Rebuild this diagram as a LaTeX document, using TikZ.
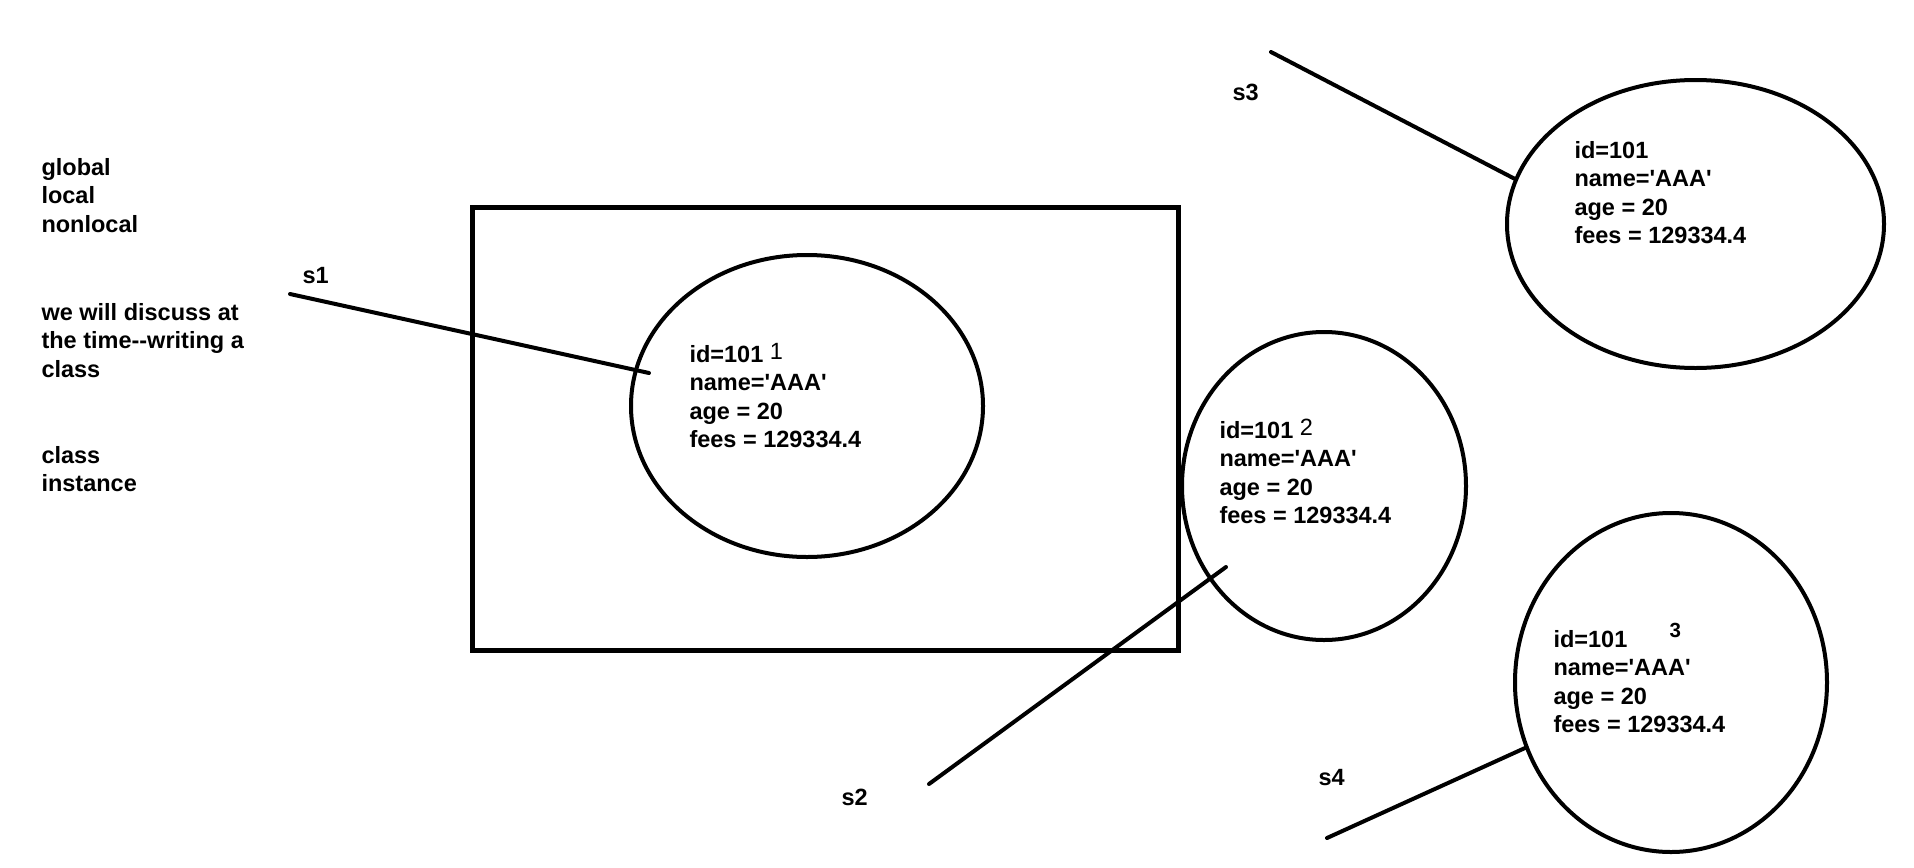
\documentclass[tikz,border=0pt]{standalone}
\usepackage{fontspec}
\newfontfamily\arialf{Liberation Sans}
\usetikzlibrary{shapes.geometric}
\tikzset{
  txt/.style={anchor=base west, inner sep=0pt, font=\arialf\bfseries\fontsize{9.4}{11.4}\selectfont},
  obj/.style={draw, ellipse, line width=1.6pt, inner sep=0pt},
  link/.style={line width=1.6pt, line cap=round},
}
\newcommand{\blk}[1]{\vtop{\baselineskip=11.4pt\lineskiplimit=-5pt #1}}
\newcommand{\idx}[1]{\raisebox{1.2pt}{\mdseries #1}}
\begin{document}
\begin{tikzpicture}[x=0.4pt,y=-0.4pt]
\useasboundingbox[fill=white] (0,0) rectangle (1914,867);
% left notes
\node[txt] (n1) at (41,175) {\blk{\hbox{global}\hbox{local}\hbox{nonlocal}}};
\node[txt] (n2) at (41,320) {\blk{\hbox{we will discuss at}\hbox{the time--writing a}\hbox{class}}};
\node[txt] (n3) at (41,463) {\blk{\hbox{class}\hbox{instance}}};
% box
\node[draw, line width=2pt, minimum width=282pt, minimum height=177.2pt, inner sep=0pt] (box) at (825.5,428.5) {};
% ellipses
\node[obj, minimum width=140.8pt, minimum height=120.8pt] (e1) at (807,406) {};
\node[obj, minimum width=113.6pt, minimum height=123.2pt] (e2) at (1324,486) {};
\node[obj, minimum width=150.8pt, minimum height=115.2pt] (e3) at (1695.5,224) {};
\node[obj, minimum width=124.8pt, minimum height=135.6pt] (e4) at (1671,682.5) {};
% ellipse texts
\node[txt] (t1) at (689,362) {\blk{\hbox{id=101 \idx{1}}\hbox{name='AAA'}\hbox{age = 20}\hbox{fees = 129334.4}}};
\node[txt] (t2) at (1219,438) {\blk{\hbox{id=101 \idx{2}}\hbox{name='AAA'}\hbox{age = 20}\hbox{fees = 129334.4}}};
\node[txt] (t3) at (1574,158) {\blk{\hbox{id=101}\hbox{name='AAA'}\hbox{age = 20}\hbox{fees = 129334.4}}};
\node[txt] (t4) at (1553,647) {\blk{\hbox{id=101}\hbox{name='AAA'}\hbox{age = 20}\hbox{fees = 129334.4}}};
\node[txt, font=\arialf\bfseries\fontsize{8.2}{10}\selectfont] (t4n) at (1669,637) {3};
% reference labels
\node[txt] (s1) at (302,283) {s1};
\node[txt] (s2) at (841,805) {s2};
\node[txt] (s3) at (1232,100) {s3};
\node[txt] (s4) at (1318,785) {s4};
% connector ends
\coordinate (a1) at (290,294); \coordinate (b1) at (649,373);
\coordinate (a2) at (929,784); \coordinate (b2) at (1226,567);
\coordinate (a3) at (1271,52); \coordinate (b3) at (1515,179);
\coordinate (a4) at (1327,838); \coordinate (b4) at (1525,748);
\draw[link] (a1) -- (b1);
\draw[link] (a2) -- (b2);
\draw[link] (a3) -- (b3);
\draw[link] (a4) -- (b4);
\end{tikzpicture}
\end{document}
